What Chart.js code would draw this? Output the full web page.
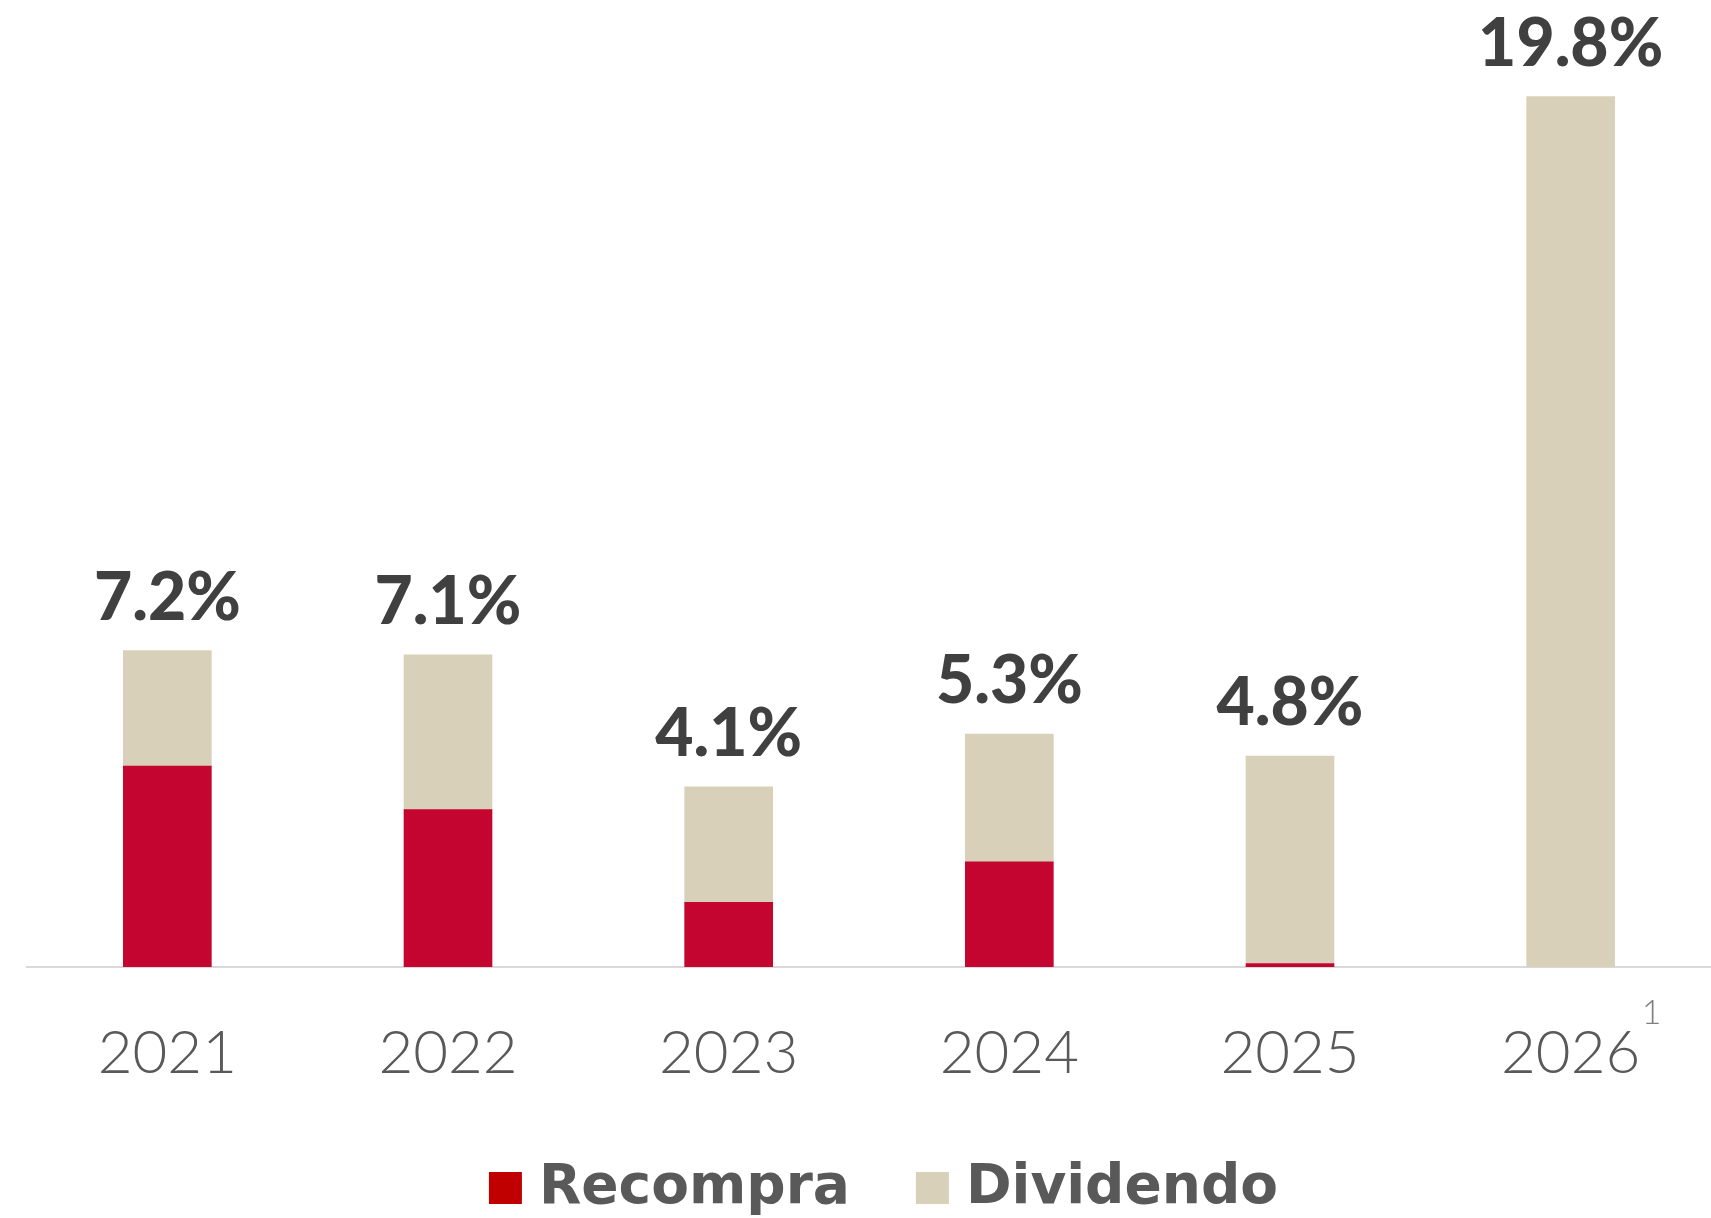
<!DOCTYPE html>
<html>
<head>
<meta charset="utf-8">
<script src="https://cdn.jsdelivr.net/npm/chart.js@4/dist/chart.umd.min.js"></script>
<style>
html,body{margin:0;padding:0;background:#fff;}
#wrap{width:1711px;height:1218px;position:relative;}
</style>
</head>
<body>
<div id="wrap"><canvas id="c" width="1711" height="1218"></canvas></div>
<script>
const categories = ["2021", "2022", "2023", "2024", "2025", "2026"];
const recompra = [4.57, 3.58, 1.47, 2.39, 0.08, null];
const dividendo = [2.63, 3.52, 2.63, 2.91, 4.72, 19.8];
const totalLabels = ["7.2%", "7.1%", "4.1%", "5.3%", "4.8%", "19.8%"];
const footnotes = ["", "", "", "", "", "1"];
const seriesNames = ["Recompra", "Dividendo"];

const barRed = "#C3052F";
const legendRed = "#C00000";
const beige = "#D8D0B8";

const totalsPlugin = {
  id: "totals",
  afterDatasetsDraw(chart) {
    const ctx = chart.ctx;
    const meta = chart.getDatasetMeta(1);
    ctx.save();
    ctx.font = "900 66px Lato";
    ctx.fillStyle = "#404040";
    ctx.textAlign = "center";
    ctx.textBaseline = "alphabetic";
    meta.data.forEach((bar, i) => {
      ctx.fillText(totalLabels[i], bar.x, bar.y - 31);
    });
    // footnote superscripts on x tick labels
    const xs = chart.scales.x;
    ctx.font = "300 34px Lato";
    ctx.fillStyle = "#7f7f7f";
    ctx.textAlign = "left";
    footnotes.forEach((f, i) => {
      if (!f) return;
      const x = xs.getPixelForValue(i);
      ctx.fillText(f, x + 71, xs.top + 57);
    });
    ctx.restore();
  }
};

// Legend drawn on the canvas (fixed gap between items like the original)
const legendPlugin = {
  id: "customLegend",
  afterDraw(chart) {
    const ctx = chart.ctx;
    const colors = [legendRed, beige];
    const box = 33, gapBoxText = 17, gapItems = 66;
    ctx.save();
    ctx.font = "bold 55px 'DejaVu Sans'";
    ctx.textBaseline = "middle";
    ctx.textAlign = "left";
    const widths = seriesNames.map(n => ctx.measureText(n).width);
    let total = 0;
    widths.forEach((w, i) => { total += box + gapBoxText + w; if (i < widths.length - 1) total += gapItems; });
    let x = (chart.width - total) / 2 + 28;
    const cy = 1188;
    seriesNames.forEach((n, i) => {
      ctx.fillStyle = colors[i];
      ctx.fillRect(x, cy - 16, box, 32);
      ctx.fillStyle = "#595959";
      ctx.fillText(n, x + box + gapBoxText, cy + 1);
      x += box + gapBoxText + widths[i] + gapItems;
    });
    ctx.restore();
  }
};

new Chart(document.getElementById("c"), {
  type: "bar",
  data: {
    labels: categories,
    datasets: [
      { label: seriesNames[0], data: recompra, backgroundColor: barRed, barThickness: 88 },
      { label: seriesNames[1], data: dividendo, backgroundColor: beige, barThickness: 88 }
    ]
  },
  options: {
    responsive: false,
    animation: false,
    layout: { padding: { left: 27, right: 0, top: 0, bottom: 77 } },
    scales: {
      x: {
        stacked: true,
        grid: { display: false, drawTicks: false },
        border: { display: true, color: "#d9d9d9", width: 2 },
        ticks: { color: "#595959", font: { family: "Lato", size: 60, weight: "300" }, padding: 51 }
      },
      y: {
        stacked: true,
        display: false,
        min: 0,
        max: 22
      }
    },
    plugins: {
      tooltip: { enabled: false },
      legend: { display: false }
    }
  },
  plugins: [totalsPlugin, legendPlugin]
});
</script>
</body>
</html>
